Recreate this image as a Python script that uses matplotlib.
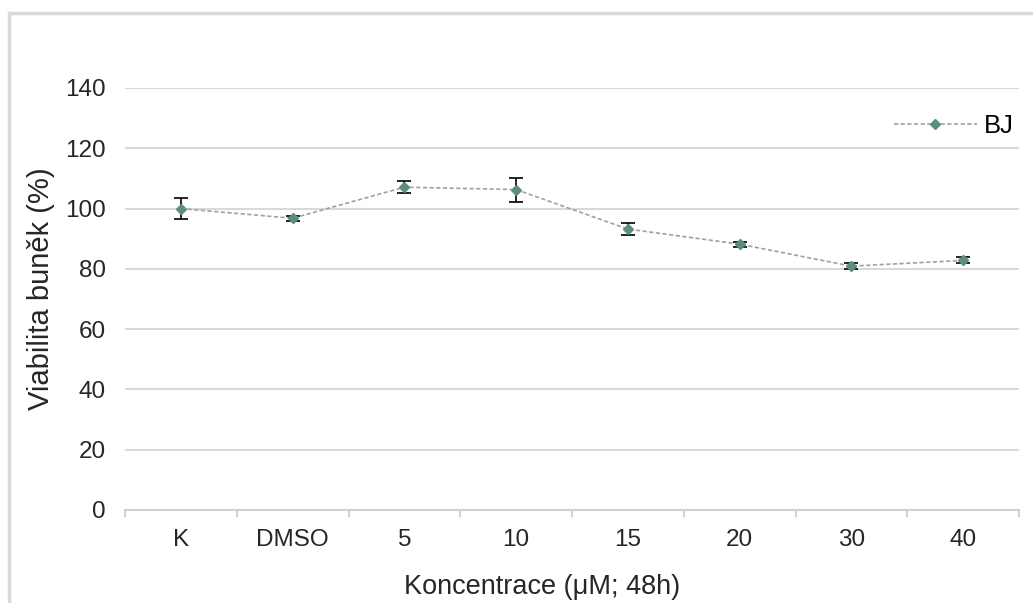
import matplotlib
matplotlib.use("Agg")
import matplotlib.pyplot as plt
from matplotlib.patches import Rectangle
from matplotlib.ticker import FixedLocator

plt.rcParams['font.family'] = ['Liberation Sans', 'DejaVu Sans']

categories = ["K", "DMSO", "5", "10", "15", "20", "30", "40"]
viability = [100.0, 96.8, 107.1, 106.3, 93.2, 88.2, 80.9, 82.8]
errors = [3.4, 0.9, 1.9, 4.0, 2.0, 0.8, 1.0, 1.0]
series_name = "BJ"
yticks = [0, 20, 40, 60, 80, 100, 120, 140]

W, H = 1033, 603
fig = plt.figure(figsize=(W / 100, H / 100), dpi=100)
# outer frame (Excel chart area)
fig.patches.append(Rectangle((9 / W, -0.1), 1.2, (H - 13) / H + 0.1,
                             transform=fig.transFigure, fill=False,
                             edgecolor='#d9d9d9', linewidth=2.5, zorder=0))

ax = fig.add_axes([125 / W, (H - 510) / H, (1019 - 125) / W, (510 - 88) / H])
x = list(range(len(categories)))
green = '#5b8f7c'
ax.plot(x, viability, linestyle=(0, (2.5, 1.5)), color='#a0a0a0', linewidth=1.2,
        marker='D', markersize=5.5, markerfacecolor=green, markeredgecolor=green,
        label=series_name, zorder=3)
ax.errorbar(x, viability, yerr=errors, fmt='none', ecolor='black',
            elinewidth=1.2, capsize=5, capthick=1.2, zorder=2)

ax.set_xlim(-0.5, len(categories) - 0.5)
ax.set_ylim(0, 140)
ax.set_yticks(yticks)
ax.set_xticks(x)
ax.set_xticklabels(categories)
ax.xaxis.set_minor_locator(FixedLocator([i - 0.5 for i in range(len(categories) + 1)]))
ax.tick_params(axis='x', which='major', length=0, labelsize=17.5, pad=14, colors='#262626')
ax.tick_params(axis='x', which='minor', length=5, color='#c8c8c8', width=1.2)
ax.tick_params(axis='y', length=0, labelsize=17.5, pad=14, colors='#262626')
ax.grid(axis='y', color='#d9d9d9', linewidth=1.5, zorder=0)
ax.set_axisbelow(True)
for s in ['top', 'right', 'left']:
    ax.spines[s].set_visible(False)
ax.spines['bottom'].set_color('#d0d0d0')
ax.spines['bottom'].set_linewidth(1.5)

ax.set_ylabel("Viabilita buněk (%)", fontsize=21, color='#262626', labelpad=4)
ax.yaxis.set_label_coords(-0.094, 0.525)
ax.set_xlabel("Koncentrace (μM; 48h)", fontsize=19.5, color='#262626', labelpad=16)
ax.xaxis.set_label_coords(0.466, -0.183)
ax.xaxis.label.set_va('center')
ax.yaxis.label.set_va('center')

leg = ax.legend(loc='center right', bbox_to_anchor=(1.006, 0.91), frameon=False,
                fontsize=18.5, handlelength=3.2, handletextpad=0.3, borderaxespad=0)

fig.savefig("out.png", dpi=100, facecolor='white')
